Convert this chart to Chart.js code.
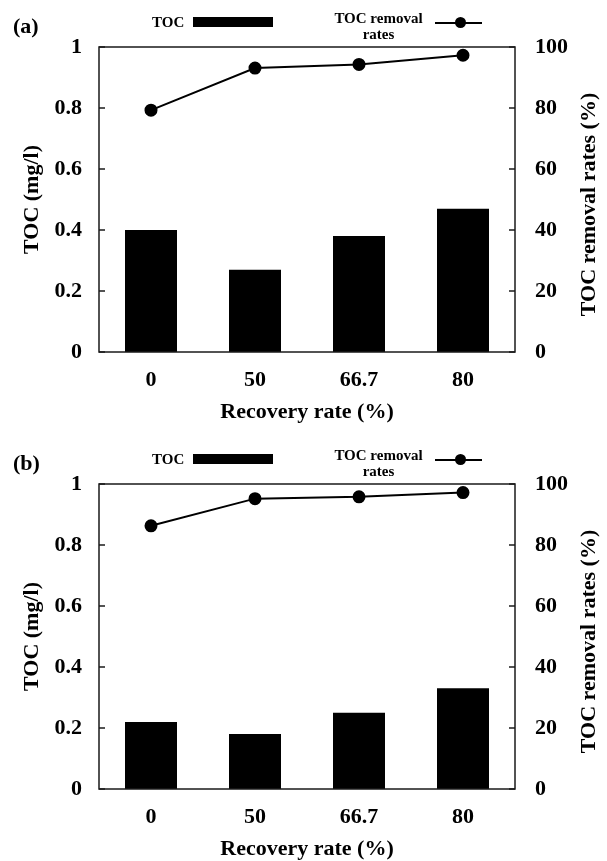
<!DOCTYPE html>
<html>
<head>
<meta charset="utf-8">
<script src="https://cdn.jsdelivr.net/npm/chart.js@4/dist/chart.umd.min.js"></script>
<style>
  body { margin:0; width:607px; height:861px; overflow:hidden; position:relative; background:#fff;
         font-family:'Liberation Serif','Times New Roman',serif; font-weight:bold; color:#000; }
  .panel { position:absolute; left:0; width:607px; overflow:hidden; }
  .panel canvas { position:absolute; left:0; top:0; }
  .tag { position:absolute; left:13px; top:15px; font-size:22px; line-height:22px; }
  .leg-toc { position:absolute; left:152px; top:14.5px; font-size:15px; line-height:15px; }
  .leg-box { position:absolute; left:193px; top:17px; width:80px; height:10px; background:#000; }
  .leg-rem { position:absolute; left:318px; top:11px; width:121px; text-align:center; font-size:15px; line-height:15.5px; }
  .leg-line { position:absolute; left:435px; top:21.5px; width:47px; height:2.5px; background:#000; }
  .leg-dot { position:absolute; left:454.5px; top:17.2px; width:11px; height:11px; border-radius:50%; background:#000; }
</style>
</head>
<body>
<div class="panel" style="top:0;height:437px">
  <canvas id="chartA" width="607" height="437"></canvas>
  <div class="tag">(a)</div>
  <div class="leg-toc">TOC</div><div class="leg-box"></div>
  <div class="leg-rem">TOC removal<br>rates</div><div class="leg-line"></div><div class="leg-dot"></div>
</div>
<div class="panel" style="top:437px;height:424px">
  <canvas id="chartB" width="607" height="437"></canvas>
  <div class="tag">(b)</div>
  <div class="leg-toc">TOC</div><div class="leg-box"></div>
  <div class="leg-rem">TOC removal<br>rates</div><div class="leg-line"></div><div class="leg-dot"></div>
</div>
<script>
// datos
const recoveryRates = ['0', '50', '66.7', '80'];
const tocA = [0.40, 0.27, 0.38, 0.47];
const removalA = [79.3, 93.1, 94.3, 97.3];
const tocB = [0.22, 0.18, 0.25, 0.33];
const removalB = [86.3, 95.2, 95.8, 97.2];

const FONT = "'Liberation Serif','Times New Roman',serif";
const tickFont = { family: FONT, size: 22, weight: 'bold' };
const titleFont = { family: FONT, size: 22, weight: 'bold' };

// marco, ticks hacia dentro y título derecho (leído de abajo a arriba)
const framePlugin = {
  id: 'frame',
  afterDatasetsDraw(chart) {
    const { ctx, chartArea: a, scales } = chart;
    ctx.save();
    ctx.strokeStyle = '#1a1a1a';
    ctx.lineWidth = 1.5;
    ctx.strokeRect(a.left, a.top, a.right - a.left, a.bottom - a.top);
    scales.y.ticks.forEach(t => {
      const y = scales.y.getPixelForValue(t.value);
      ctx.beginPath(); ctx.moveTo(a.left, y); ctx.lineTo(a.left + 6, y); ctx.stroke();
    });
    scales.y1.ticks.forEach(t => {
      const y = scales.y1.getPixelForValue(t.value);
      ctx.beginPath(); ctx.moveTo(a.right, y); ctx.lineTo(a.right - 6, y); ctx.stroke();
    });
    ctx.translate(589, (a.top + a.bottom) / 2 + 5);
    ctx.rotate(-Math.PI / 2);
    ctx.font = `bold 22px ${FONT}`;
    ctx.fillStyle = '#000';
    ctx.textAlign = 'center';
    ctx.textBaseline = 'middle';
    ctx.fillText('TOC removal rates (%)', 0, 0);
    ctx.restore();
  }
};

function makeChart(id, toc, removal) {
  return new Chart(document.getElementById(id), {
    type: 'bar',
    data: {
      labels: recoveryRates,
      datasets: [
        { type: 'line', label: 'TOC removal rates', data: removal, yAxisID: 'y1', order: 0,
          borderColor: '#000', borderWidth: 2, pointRadius: 5.5, pointBackgroundColor: '#000',
          pointBorderColor: '#000', tension: 0, fill: false },
        { type: 'bar', label: 'TOC', data: toc, yAxisID: 'y', order: 1,
          backgroundColor: '#000', barPercentage: 0.5, categoryPercentage: 1 }
      ]
    },
    options: {
      responsive: false, animation: false, devicePixelRatio: 1,
      layout: { padding: { top: 47, left: 0, right: 0, bottom: 0 } },
      plugins: { legend: { display: false }, tooltip: { enabled: false } },
      scales: {
        x: {
          grid: { display: false, drawTicks: false }, border: { display: false },
          ticks: { font: tickFont, color: '#000', padding: 15 },
          title: { display: true, text: 'Recovery rate (%)', font: titleFont, color: '#000', padding: { top: 0, bottom: 11 } },
          afterFit: s => { s.height = 85; }
        },
        y: {
          position: 'left', min: 0, max: 1,
          grid: { display: false, drawTicks: false }, border: { display: false },
          ticks: { stepSize: 0.2, font: tickFont, color: '#000', padding: 17, callback: v => String(+v.toFixed(1)) },
          title: { display: true, text: 'TOC (mg/l)', font: titleFont, color: '#000', padding: { top: 19, bottom: 0 } },
          afterFit: s => { s.width = 99; }
        },
        y1: {
          position: 'right', min: 0, max: 100,
          grid: { display: false, drawTicks: false }, border: { display: false },
          ticks: { stepSize: 20, font: tickFont, color: '#000', padding: 20 },
          afterFit: s => { s.width = 92; }
        }
      }
    },
    plugins: [framePlugin]
  });
}

makeChart('chartA', tocA, removalA);
makeChart('chartB', tocB, removalB);
</script>
</body>
</html>
